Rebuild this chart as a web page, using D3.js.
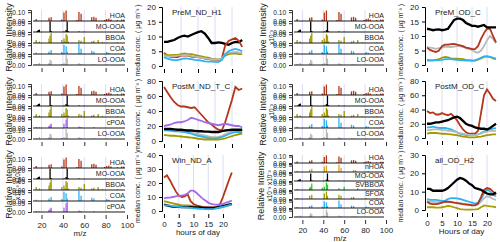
<!DOCTYPE html>
<html>
<head>
<meta charset="utf-8">
<script src="https://cdn.jsdelivr.net/npm/d3@7"></script>
<style>
body { margin: 0; background: #fff; }
text { font-family: Arial, "Liberation Sans", sans-serif; fill: #222; }
</style>
</head>
<body>
<script>
// ---- data ----
var hours = [0,1,2,3,4,5,6,7,8,9,10,11,12,13,14,15,16,17,18,19,20,21,22,23];
var mzTicks = [20,40,60,80,100];
var hourTicks = [0,5,10,15,20];

// mass spectra (m/z, fraction)
var msHOA = [[15,0.02],[27,0.03],[29,0.035],[39,0.015],[41,0.08],[43,0.1],[53,0.01],[55,0.085],[57,0.07],[67,0.035],[69,0.04],[71,0.03],[79,0.01],[81,0.02],[83,0.025],[85,0.015],[91,0.008],[95,0.015],[97,0.015]];
var msMOOOA = [[16,0.02],[17,0.04],[18,0.05],[28,0.22],[29,0.02],[41,0.01],[43,0.04],[44,0.22],[45,0.015],[55,0.01],[60,0.005]];
var msBBOA = [[15,0.02],[18,0.01],[27,0.03],[28,0.05],[29,0.07],[39,0.02],[41,0.03],[42,0.01],[43,0.06],[44,0.05],[45,0.01],[55,0.02],[57,0.015],[60,0.04],[67,0.01],[69,0.015],[73,0.02],[77,0.005],[91,0.005]];
var msCOA = [[15,0.01],[27,0.02],[29,0.03],[39,0.015],[41,0.07],[43,0.06],[44,0.02],[55,0.08],[57,0.04],[67,0.025],[69,0.02],[81,0.015],[83,0.01],[95,0.008],[98,0.01]];
var msLOOOA = [[15,0.01],[18,0.02],[27,0.02],[28,0.05],[29,0.04],[39,0.01],[41,0.02],[43,0.1],[44,0.06],[55,0.02],[57,0.01],[67,0.005],[69,0.008],[71,0.005],[81,0.004]];
var mscPOA = [[15,0.01],[18,0.005],[27,0.02],[28,0.03],[29,0.04],[41,0.04],[43,0.08],[44,0.1],[55,0.015],[57,0.01],[69,0.008]];
var msnHOA = [[15,0.01],[27,0.02],[29,0.03],[41,0.05],[43,0.06],[55,0.07],[57,0.04],[69,0.02],[71,0.015],[83,0.01]];
var msSVBBOA = [[15,0.01],[27,0.02],[28,0.03],[29,0.06],[39,0.02],[41,0.03],[43,0.07],[44,0.05],[55,0.015],[60,0.03],[73,0.015]];
var msSFOA = [[15,0.01],[27,0.03],[29,0.04],[41,0.05],[43,0.07],[44,0.03],[55,0.04],[57,0.03],[67,0.015],[69,0.02],[81,0.01],[91,0.006]];

// diurnal medians (ug m-3)
var ndH1 = {
  "MO-OOA": [8.2,8.2,8.5,8.8,9.5,10,10.3,10,10.5,11,11.5,11.8,11,9.5,7.8,7.8,8,7.8,7.5,7.2,7.8,8.2,8.0,8.8],
  "HOA":    [4.5,3.5,3,3,3,3.5,3.5,3.5,3.2,3,3,2.8,2.5,2.3,2.2,2.2,2,2.5,7,8.5,9,9.5,8.5,6.5],
  "BBOA":   [4,3.8,3.7,3.8,3.8,4,4.3,4,4,3.8,3.5,3.3,3,2.8,2.5,2.3,2.2,2.5,3.5,4,4.2,4.3,4,4],
  "LO-OOA": [3.5,3.3,3.2,3.3,3.5,3.6,3.8,3.6,3.4,3.2,3,2.8,2.6,2.4,2.3,2.2,2.2,2.6,4,4.5,4.6,4.8,4.6,4.5],
  "COA":    [3,2.5,2.2,2,2,2.3,2.6,2.5,2.3,2.1,2,1.8,1.6,1.5,1.5,1.4,1.3,2,4,5,5.5,5.8,5.5,5]
};
var ndTC = {
  "HOA":    [72,65,58,52,48,46,46,45,44,45,40,35,30,25,22,18,15,14,25,40,55,72,68,70],
  "cPOA":   [20,21,22,24,25,25,26,28,31,30,28,27,25,24,23,22,21,22,23,22,21,20,20,18],
  "LO-OOA": [14,14,14,14,13.5,13,12.5,12,11,10,9,8,7,6,5,5,5.5,6.5,9,11,13,14,14,14],
  "COA":    [15,15,14,13,13,12.5,12,11,10,8,7,6,5,4,3.5,3.5,4,5,7,9,11,12,12,12],
  "MO-OOA": [16,16,16,15.5,15,15,14.5,14,14,13.5,13,13,12.5,12.5,12,12,12,13,14,14.5,15,15,15,15],
  "BBOA":   [8,7.5,7,7,6.5,6,5.5,5,4.5,4,3,2.5,2,2,2,2,2,2.5,3.5,5,6.5,8,9,10]
};
var ndA = {
  "HOA":    [24,25.5,22,18,14,11,10,10.5,12,7,5,4,3.5,3,2.8,2.6,2.5,2.5,3,5,10,16,22,27.5],
  "cPOA":   [9,9.5,9.5,10,10.5,11,11,11.5,12.5,14.5,14.5,13,11,9,7.5,6,5,4.5,4.5,4.5,5,6,6.5,7.5],
  "BBOA":   [7,6.5,6,5.5,5,4.5,4,4,4,3.8,3.5,3,2.5,2,2,2,2,1.8,2,2.5,3,3.5,4,5],
  "MO-OOA": [4.5,4,3.5,3.2,3,3,2.8,2.8,2.8,2.7,2.6,2.5,2.5,2.3,2.2,2.2,2.2,2.3,2.5,3,3.5,4,4.5,5],
  "COA":    [4,4,3.8,3.5,3.2,3,2.8,2.6,2.5,2.3,2,1.8,1.6,1.5,1.4,1.3,1.3,1.5,2,2.5,3,3.5,4,4.5]
};
var odC1 = {
  "LO-OOA": [6.2,6,5.8,5.6,5.8,6,6.3,6.3,6.2,6.3,6.5,6.5,6.2,5.8,5.5,5.2,4.5,4.2,5,6.5,8.5,10,9,7.5],
  "BBOA":   [1.5,1.5,1.6,1.8,2,2.5,2.8,2.6,2.3,2.2,2.2,2.1,2,1.8,1.7,1.5,1.5,1.8,2.3,2.8,3,2.8,2.3,2],
  "COA":    [1.8,1.7,1.6,1.6,1.7,1.8,2,2,2,1.9,1.8,1.7,1.6,1.5,1.5,1.5,1.6,2,2.5,3,3,2.8,2.5,2.2],
  "HOA":    [6,5.2,4.8,4.5,5,6.5,7,7,7.2,7.3,7,6.8,6.5,6,5.8,5.5,5.5,6.5,9,11,12.5,12.5,10,7.8],
  "MO-OOA": [12.5,12.3,12,12.2,12.3,12,12.2,12.5,14,15.5,16,16,15.5,14.5,14,13.5,13.5,13.2,13.5,13.8,13,13,13,13]
};
var odC2 = {
  "HOA":    [38,35,36,33,33,35,33,32,34,30,25,18,12,8,6,6,6,10,35,60,68,62,55,52],
  "COA":    [15,15,16,15,14,14,14,13,12,10,8,6,5,4,4,4,4,5,7,9,11,12,13,14],
  "LO-OOA": [11,11,12,12,12,11,11,10,10,9,8,7,6,5,4.5,4,4,5,6,8,9,10,10,10],
  "BBOA":   [6,7,7,7,6.5,6,6,5.5,5,4.5,4,3,2,1.5,1,1,1,1.5,2,3,4,4.5,5,5],
  "MO-OOA": [20,20,21,22,22,23,24,25,27,29,30,28,24,20,18,17,15,14,13,13,12,14,17,20]
};
var odH2 = {
  "LO-OOA": [5,4.5,4.5,4.3,4.3,4.5,4.5,4.5,4.5,4.2,4,3.8,3.5,3.2,3,2.8,2.5,3,4.5,6.5,7.5,7,6,5.5],
  "SFOA":   [1.5,1.5,1.5,1.3,1.3,1.5,1.8,2.2,2,1.5,1,0.5,0.3,0.2,0.2,0.2,0.3,0.5,1.5,2.5,2.2,2,1.8,1.5],
  "COA":    [6,5.5,5.5,5.5,5.3,5,5,6,6.5,6.5,6.3,6,5.5,5,4.5,4,3.5,4,6,9,11.5,10,8.5,7.5],
  "HOA":    [4.5,3.5,3.2,3.2,3.5,4,4.5,4.5,4.3,4,3.8,3.5,3.2,3,2.8,2.6,2.5,3.5,7,11,12,11.5,10,8.5],
  "MO-OOA": [11.5,11.5,10.5,10.5,10.5,10.5,11,12,13.5,15,16.5,17.5,17,16,14.5,13.5,12,11.5,11,10,9,8.5,8.5,9.5]
};

var colors = {
  "HOA": "#b3361a", "MO-OOA": "#000000", "BBOA": "#a09a00", "COA": "#2fb2f0",
  "LO-OOA": "#b8b8b8", "cPOA": "#a46ae8", "nHOA": "#e0a020", "SVBBOA": "#2ccc2c", "SFOA": "#a6a000"
};
var spectra = {
  "HOA": msHOA, "MO-OOA": msMOOOA, "BBOA": msBBOA, "COA": msCOA, "LO-OOA": msLOOOA,
  "cPOA": mscPOA, "nHOA": msnHOA, "SVBBOA": msSVBBOA, "SFOA": msSFOA
};

// ---- layout ----
var svg = d3.select("body").append("svg").attr("width", 500).attr("height", 242);
var grid = "#dcdcf6";

function drawSpectra(cfg) {
  var x = d3.scaleLinear().domain([12, 100]).range([cfg.x0, cfg.x1]);
  var g = svg.append("g");
  var top = cfg.bases[0] - cfg.h;
  var bottom = cfg.bases[cfg.bases.length - 1];
  mzTicks.slice(0, 4).forEach(function(m) {
    g.append("line").attr("x1", x(m)).attr("x2", x(m)).attr("y1", top).attr("y2", bottom)
      .attr("stroke", grid).attr("stroke-width", 1);
  });
  cfg.names.forEach(function(name, i) {
    var base = cfg.bases[i];
    var data = spectra[name];
    var ymax = d3.max(data, function(d) { return d[1]; }) * 1.05;
    var y = d3.scaleLinear().domain([0, ymax]).range([base, base - cfg.h]);
    g.selectAll(null).data(data).enter().append("line")
      .attr("x1", function(d) { return x(d[0]); })
      .attr("x2", function(d) { return x(d[0]); })
      .attr("y1", base)
      .attr("y2", function(d) { return y(d[1]); })
      .attr("stroke", colors[name]).attr("stroke-width", 1.3);
    g.append("line").attr("x1", cfg.x0).attr("x2", cfg.x1 - 2).attr("y1", base).attr("y2", base)
      .attr("stroke", "#000").attr("stroke-width", 0.9);
    g.append("text").attr("x", cfg.x1 - 2).attr("y", base - 3).attr("text-anchor", "end")
      .attr("font-size", 7).text(name);
    // tiny y ticks
    var ya = g.append("g").attr("transform", "translate(" + (cfg.x0 - 2) + ",0)")
      .call(d3.axisLeft(y).tickValues([0, ymax * 0.8]).tickSize(3).tickFormat(function(v, k) { return k ? cfg.ticks[i] : "0.00"; }));
    ya.selectAll("text").attr("font-size", 6.5).attr("fill", "#333");
    ya.selectAll("line").attr("stroke", "#333");
    ya.select(".domain").attr("stroke", "#333");
  });
  var xa = g.append("g").attr("transform", "translate(0," + (bottom + 3) + ")")
    .call(d3.axisBottom(x).tickValues(mzTicks).tickSize(4).tickFormat(cfg.labels ? d3.format("d") : ""));
  xa.select(".domain").remove();
  xa.selectAll("text").attr("font-size", 8).attr("fill", "#333");
  xa.selectAll("line").attr("stroke", "#333");
  g.append("text").attr("transform", "translate(" + cfg.labX + "," + ((top + bottom) / 2) + ") rotate(-90)")
    .attr("text-anchor", "middle").attr("font-size", 9).attr("fill", "#444").text("Relative Intensity");
  if (cfg.sub) {
    g.append("text").attr("transform", "translate(" + (cfg.labX + 8) + "," + ((top + bottom) / 2) + ") rotate(-90)")
      .attr("text-anchor", "middle").attr("font-size", 6.5).attr("fill", "#444").text(cfg.sub);
  }
  if (cfg.labels) {
    g.append("text").attr("x", (cfg.x0 + cfg.x1) / 2).attr("y", bottom + 24).attr("text-anchor", "middle")
      .attr("font-size", 8).text("m/z");
  }
}

function drawDiurnal(cfg) {
  var x = d3.scaleLinear().domain([0, 23]).range([cfg.x0, cfg.x0 + 23 * cfg.k]);
  var y = d3.scaleLinear().domain([0, cfg.ymax]).range([cfg.y0, cfg.y1]);
  var g = svg.append("g");
  hourTicks.slice(1).forEach(function(h) {
    g.append("line").attr("x1", x(h)).attr("x2", x(h)).attr("y1", cfg.y0).attr("y2", cfg.y1)
      .attr("stroke", grid);
  });
  var line = d3.line().x(function(d, i) { return x(hours[i]); }).y(function(d) { return y(d); });
  Object.keys(cfg.data).forEach(function(name) {
    g.append("path").attr("d", line(cfg.data[name])).attr("fill", "none")
      .attr("stroke", colors[name]).attr("stroke-width", name == "MO-OOA" ? 2.3 : 1.8);
  });
  var ya = g.append("g").attr("transform", "translate(" + (cfg.x0 - 2) + ",0)")
    .call(d3.axisLeft(y).tickValues(cfg.yticks).tickSize(3));
  ya.selectAll("text").attr("font-size", 8).attr("fill", "#333");
  var xa = g.append("g").attr("transform", "translate(0," + (cfg.y0 + 3) + ")")
    .call(d3.axisBottom(x).tickValues(hourTicks).tickSize(4).tickFormat(cfg.xlab ? d3.format("d") : ""));
  xa.select(".domain").remove();
  xa.selectAll("text").attr("font-size", 8).attr("fill", "#333");
  g.append("text").attr("x", cfg.x0 + 8).attr("y", cfg.y1 + 8).attr("font-size", 8).text(cfg.title);
  g.append("text").attr("transform", "translate(" + (cfg.x0 - 24) + "," + ((cfg.y0 + cfg.y1) / 2 + 4) + ") rotate(-90)")
    .attr("text-anchor", "middle").attr("font-size", 7).attr("fill", "#444").text("median conc. ( \u03bcg m\u207b\u00b3 )");
  if (cfg.xlab) {
    g.append("text").attr("x", x(11.5)).attr("y", cfg.y0 + 24).attr("text-anchor", "middle")
      .attr("font-size", 8).text(cfg.xlab);
  }
}

// left column
drawSpectra({x0: 33, x1: 127, h: 11, bases: [21, 32, 43, 54, 65], labX: 12,
  names: ["HOA","MO-OOA","BBOA","COA","LO-OOA"], ticks: ["0.10","0.05","0.05","0.05","0.05"]});
drawSpectra({x0: 33, x1: 127, h: 11, bases: [95, 106, 117, 128, 139], labX: 12,
  names: ["HOA","MO-OOA","BBOA","cPOA","LO-OOA"], ticks: ["0.10","0.05","0.05","0.05","0.10"]});
drawSpectra({x0: 33, x1: 127, h: 11, bases: [168, 179, 190, 201, 212], labX: 12, labels: true, sub: "x10\u207b\u00b3 x10\u207b\u00b3",
  names: ["HOA","MO-OOA","BBOA","COA","cPOA"], ticks: ["0.10","0.20","0.05","0.05","0.05"]});
drawDiurnal({x0: 164, k: 3.4, y0: 66, y1: 7, ymax: 20, yticks: [0,5,10,15,20], data: ndH1, title: "PreM_ND_H1"});
drawDiurnal({x0: 164, k: 3.4, y0: 141, y1: 81, ymax: 80, yticks: [0,20,40,60,80], data: ndTC, title: "PostM_ND_T_C"});
drawDiurnal({x0: 164, k: 2.95, y0: 211, y1: 155, ymax: 40, yticks: [0,10,20,30,40], data: ndA, title: "Win_ND_A", xlab: "hours of day"});

// right column
drawSpectra({x0: 294, x1: 386, h: 11, bases: [21, 32, 43, 54, 65], labX: 266, sub: "x10\u207b\u00b3",
  names: ["HOA","MO-OOA","BBOA","COA","LO-OOA"], ticks: ["0.10","0.05","0.05","0.05","0.10"]});
drawSpectra({x0: 294, x1: 386, h: 11, bases: [95, 106, 117, 128, 139], labX: 266, sub: "x10\u207b\u00b3",
  names: ["HOA","MO-OOA","BBOA","COA","LO-OOA"], ticks: ["0.10","0.05","0.05","0.20","0.10"]});
drawSpectra({x0: 294, x1: 386, h: 8, bases: [163, 172, 181, 190, 199, 208, 217], labX: 264, labels: true, sub: "x10\u207b\u00b3 x10\u207b\u00b3",
  names: ["HOA","nHOA","MO-OOA","SVBBOA","SFOA","COA","LO-OOA"], ticks: ["0.10","0.05","0.05","0.05","0.05","0.10","0.10"]});
drawDiurnal({x0: 427, k: 3.0, y0: 65, y1: 7, ymax: 20, yticks: [0,5,10,15,20], data: odC1, title: "PreM_OD_C"});
drawDiurnal({x0: 427, k: 3.0, y0: 138, y1: 81, ymax: 80, yticks: [0,20,40,60,80], data: odC2, title: "PostM_OD_C"});
drawDiurnal({x0: 427, k: 3.0, y0: 210, y1: 155, ymax: 30, yticks: [0,10,20,30], data: odH2, title: "all_OD_H2", xlab: "Hours of day"});
</script>
</body>
</html>
